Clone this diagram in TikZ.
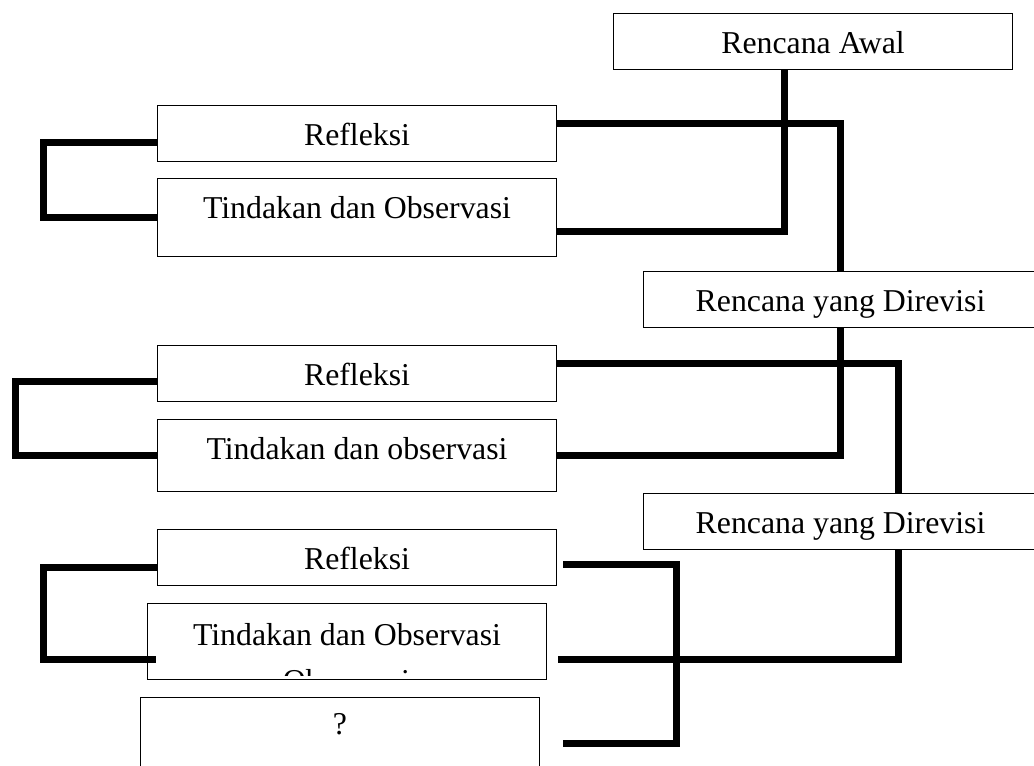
\documentclass[tikz,border=0pt]{standalone}
\usepackage{fontspec}
\setmainfont{Liberation Serif}
\usepackage{tikz}
\tikzset{
    tbox/.style = {draw=black, line width=0.8pt, inner sep=0pt, anchor=north west, text height=30pt, font=\fontsize{23.85}{28}\selectfont},
    plan_box/.style = {tbox, minimum width=#1, text depth=12pt},
    ref_box/.style = {tbox, minimum width=299.25pt, text depth=12pt},
    act_box/.style = {tbox, minimum width=299.25pt, text depth=#1},
    cut_text/.style = {inner sep=0pt, anchor=base, font=\fontsize{23.85}{28}\selectfont}
}

\begin{document}
\begin{tikzpicture}
            [x=0.75pt, y=-0.75pt,
            link/.style={line width=5.25pt, line join=miter}]
            \useasboundingbox (0,0) rectangle (1034,765);

            \node [plan_box=299.25pt] (ra) at (613,13) {Rencana Awal};
            \node [ref_box] (ref1) at (157,105) {Refleksi};
            \node [act_box=28.5pt] (tin1) at (157,178) {Tindakan dan Observasi};
            \node [plan_box=295.5pt] (ryd1) at (643,271) {Rencana yang Direvisi};
            \node [ref_box] (ref2) at (157,345) {Refleksi};
            \node [act_box=24pt] (tin2) at (157,419) {Tindakan dan observasi};
            \node [plan_box=295.5pt] (ryd2) at (643,493) {Rencana yang Direvisi};
            \node [ref_box] (ref3) at (157,529) {Refleksi};
            \node [act_box=25.5pt, text height=31.5pt] (tin3) at (147,603) {Tindakan dan Observasi};
            \node [act_box=32pt, text height=27.75pt] (ask) at (140,697) {?};
            \begin{scope}
                \clip (147,603) rectangle (546,675);
                \node [cut_text] (obs) at (346.5,691) {Observasi};
            \end{scope}

            \draw [link] ([xshift=-21.4pt]ra.south) |- ([yshift=-10.5pt]tin1.east);
            \draw [link] ([yshift=7.5pt]ref1.east) -| (ryd1.north);
            \draw [link] ([yshift=-6.75pt]ref1.west) -- ++(-114,0) |- (tin1.west);
            \draw [link] (ryd1.south) |- (tin2.east);
            \draw [link] ([yshift=7.5pt]ref2.east) -| ([xshift=43.5pt]ryd2.north);
            \draw [link] ([yshift=-6pt]ref2.west) -- ++(-142,0) |- (tin2.west);
            \draw [link] ([xshift=43.5pt]ryd2.south) |- ([xshift=8.25pt, yshift=-13.1pt]tin3.east);
            \draw [link] ([xshift=4.5pt, yshift=-5.25pt]ref3.east) -- ++(113,0) |- ([xshift=17.25pt, yshift=-4.5pt]ask.east);
            \draw [link] ([yshift=-7.5pt]ref3.west) -- ++(-114,0) |- ([xshift=6.75pt, yshift=-13.1pt]tin3.west);
        \end{tikzpicture}
\end{document}
